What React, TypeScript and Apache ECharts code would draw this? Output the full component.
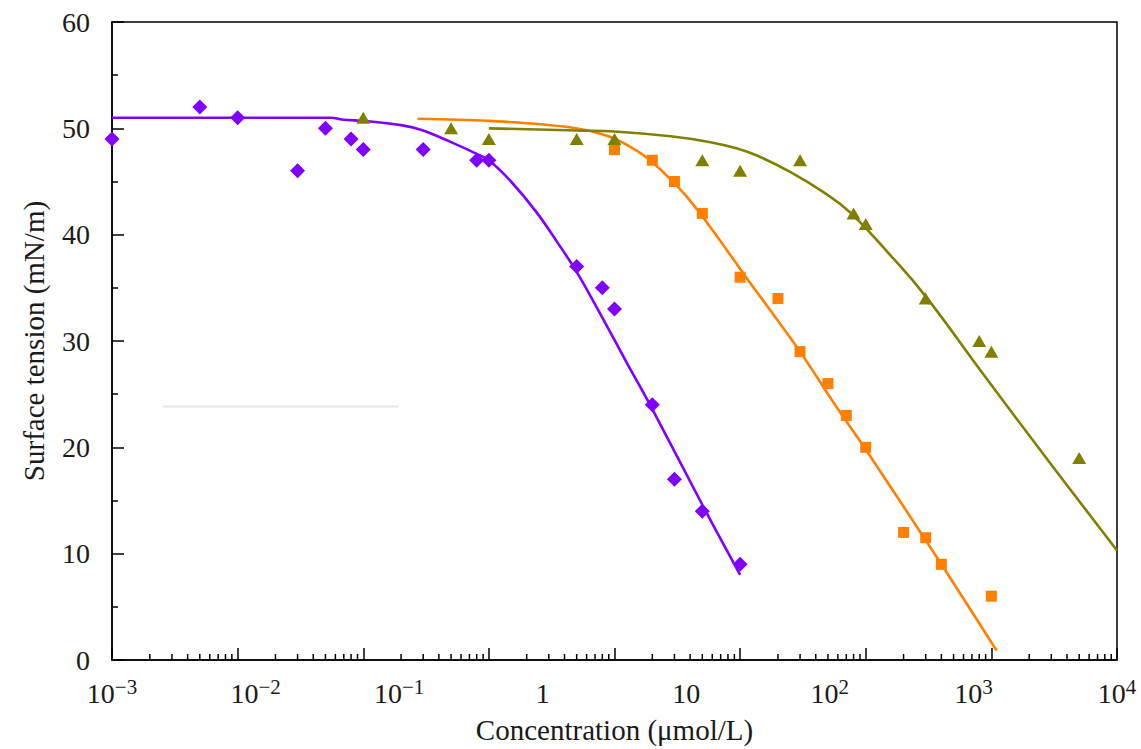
import React, { useEffect, useRef } from 'react';
import * as echarts from 'echarts';

// ---- data ----
const purpleScatter: [number, number][] = [
  [0.001, 49], [0.005, 52], [0.01, 51], [0.03, 46], [0.05, 50], [0.08, 49], [0.1, 48],
  [0.3, 48], [0.8, 47], [1, 47], [5, 37], [8, 35], [10, 33], [20, 24], [30, 17], [50, 14], [100, 9],
];
const orangeScatter: [number, number][] = [
  [10, 48], [20, 47], [30, 45], [50, 42], [100, 36], [200, 34], [300, 29], [500, 26],
  [700, 23], [1000, 20], [2000, 12], [3000, 11.5], [4000, 9], [10000, 6],
];
const oliveScatter: [number, number][] = [
  [0.1, 51], [0.5, 50], [1, 49], [5, 49], [10, 49], [50, 47], [100, 46], [300, 47],
  [800, 42], [1000, 41], [3000, 34], [8000, 30], [10000, 29], [50000, 19],
];
const purpleFit: [number, number][] = [
  [0.001, 51], [0.055, 51], [0.07, 50.8], [0.1, 50.7], [0.2, 50.3], [0.3, 49.8],
  [0.5, 48.7], [0.8, 47.6], [1, 47.0], [1.5, 45.0], [2.4, 42.1], [3.5, 39.3], [5, 36.5],
  [8, 32.2], [12.6, 27.9], [20, 23.6], [50, 14.6], [100, 8],
];
const orangeFit: [number, number][] = [
  [0.27, 50.9], [1, 50.7], [4.4, 50.1], [9.2, 49.2], [15, 47.9], [20, 46.8], [28, 45.2],
  [38, 43.5], [58, 40.7], [110, 36.1], [300, 29.0], [600, 23.6], [1000, 19.8], [4000, 9], [11000, 0.9],
];
const oliveFit: [number, number][] = [
  [1, 50], [5, 49.8], [10, 49.7], [28, 49.25], [58, 48.7], [95, 48.1], [136, 47.45], [250, 45.9],
  [460, 44.0], [750, 42.1], [1560, 38.1], [3000, 34.2], [8600, 26.9], [29000, 18.6], [100000, 10.3],
];
const tickDecades = [-3, -2, -1, 0, 1, 2, 3, 4];
const minorTickMultipliers = [2, 3, 4, 5, 6, 7, 8, 9];

const PURPLE = '#8000ff';
const ORANGE = '#ff8000';
const OLIVE = '#808000';
const FONT = '"Liberation Serif", "Times New Roman", serif';
const TEXT = '#1a1a1a';

const minorTicks = tickDecades.flatMap((e) =>
  minorTickMultipliers.map((k) => [k * Math.pow(10, e), 0])
);

function expLabel(v: number): string {
  const e = Math.round(Math.log10(v));
  if (e === 0) return '{b|1}';
  if (e === 1) return '{b|10}';
  return '{b|10}{s|' + (e < 0 ? '\u2212' + -e : String(e)) + '}';
}

const fitLine = (data: [number, number][], color: string, smooth: number) => ({
  type: 'line', xAxisIndex: 0, data, symbol: 'none', smooth,
  lineStyle: { color, width: 2.6 }, z: 2, silent: true,
});

export default function App() {
  const ref = useRef<HTMLDivElement>(null);
  useEffect(() => {
    const chart = echarts.init(ref.current!, null, { renderer: 'svg' });
    const option: any = {
      animation: false,
      backgroundColor: '#fff',
      grid: {
        left: 112, right: 24, top: 22, bottom: 88,
        show: true, borderColor: '#000', borderWidth: 1.5, backgroundColor: 'transparent',
      },
      xAxis: [
        {
          type: 'log', logBase: 10, min: 1e-3, max: 1e5,
          axisLine: { lineStyle: { color: '#000', width: 1.5 } },
          axisTick: { show: true, inside: true, length: 12, lineStyle: { color: '#000', width: 1.5 } },
          axisLabel: { show: false },
          splitLine: { show: false },
          minorTick: { show: false },
        },
        {
          type: 'log', logBase: 10, min: 1e-3, max: 1e4, position: 'bottom',
          axisLine: { show: false },
          axisTick: { show: false },
          splitLine: { show: false },
          axisLabel: {
            show: true, margin: 16, showMinLabel: true, showMaxLabel: true,
            formatter: expLabel,
            rich: {
              b: { fontSize: 28, fontFamily: FONT, color: TEXT, lineHeight: 34 },
              s: { fontSize: 21, fontFamily: FONT, color: TEXT, lineHeight: 22, verticalAlign: 'top' },
            },
          },
          name: 'Concentration (\u03bcmol/L)',
          nameLocation: 'middle',
          nameGap: 55,
          nameTextStyle: { fontSize: 29, fontFamily: FONT, color: TEXT },
        },
      ],
      yAxis: {
        type: 'value', min: 0, max: 60, interval: 10,
        axisLine: { show: true, lineStyle: { color: '#000', width: 1.5 } },
        axisTick: { show: true, inside: true, length: 12, lineStyle: { color: '#000', width: 1.5 } },
        minorTick: { show: true, splitNumber: 2, length: 6, lineStyle: { color: '#000', width: 1.5 } },
        splitLine: { show: false },
        axisLabel: { fontSize: 28, fontFamily: FONT, color: TEXT, margin: 22 },
        name: 'Surface tension (mN/m)',
        nameLocation: 'middle',
        nameGap: 64,
        nameTextStyle: { fontSize: 29, fontFamily: FONT, color: TEXT },
      },
      graphic: [
        { type: 'line', shape: { x1: 163, y1: 406.5, x2: 398, y2: 406.5 }, style: { stroke: '#e6e6e6', lineWidth: 2 }, silent: true },
      ],
      series: [
        fitLine(purpleFit, PURPLE, 0.35),
        fitLine(orangeFit, ORANGE, 0.35),
        fitLine(oliveFit, OLIVE, 0.45),
        { type: 'scatter', xAxisIndex: 0, data: purpleScatter, symbol: 'diamond', symbolSize: 15, itemStyle: { color: PURPLE, opacity: 1 }, z: 3 },
        { type: 'scatter', xAxisIndex: 0, data: orangeScatter, symbol: 'rect', symbolSize: 11, itemStyle: { color: ORANGE, opacity: 1 }, z: 3 },
        { type: 'scatter', xAxisIndex: 0, data: oliveScatter, symbol: 'triangle', symbolSize: [14, 12], itemStyle: { color: OLIVE, opacity: 1 }, z: 3 },
        {
          type: 'custom', xAxisIndex: 0, data: minorTicks, silent: true, z: 4,
          encode: { x: 0, y: 1 },
          renderItem: (_params: any, api: any) => {
            const p = api.coord([api.value(0), 0]);
            return {
              type: 'line',
              shape: { x1: p[0], y1: p[1], x2: p[0], y2: p[1] - 6 },
              style: { stroke: '#000', lineWidth: 1.5 },
            };
          },
        },
      ],
    };
    chart.setOption(option);
    return () => chart.dispose();
  }, []);
  return (
    <div
      ref={ref}
      style={{ position: 'fixed', left: 0, top: 0, width: 1141, height: 749, background: '#fff' }}
    />
  );
}
